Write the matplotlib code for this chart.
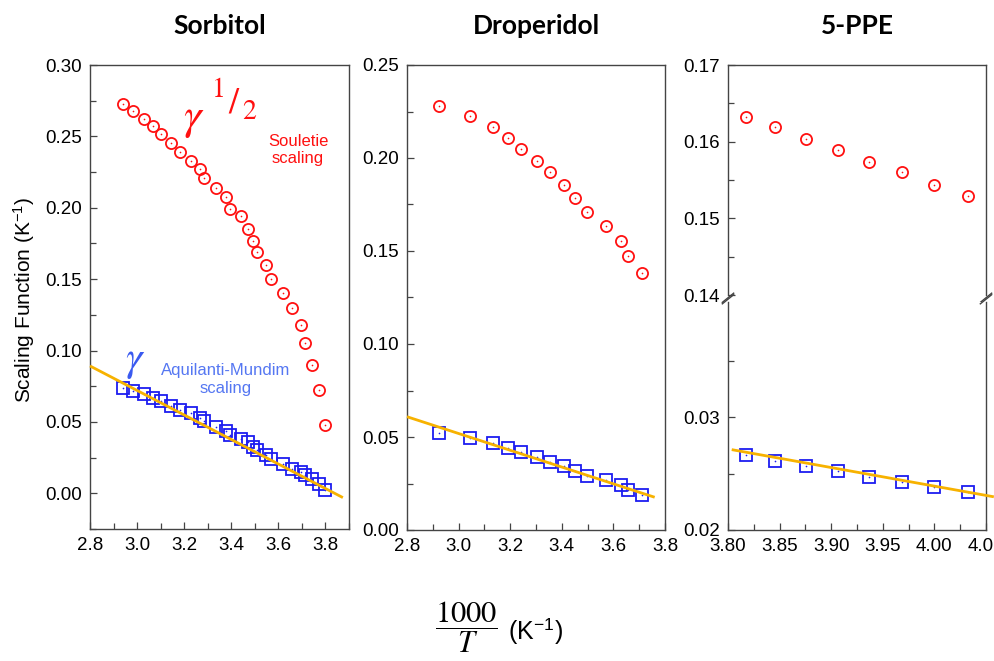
import numpy as np
import matplotlib
matplotlib.use("Agg")
import matplotlib.pyplot as plt
from matplotlib.ticker import MultipleLocator

plt.rcParams['mathtext.fontset'] = 'stix'
TICK_FONT = ['Liberation Sans Narrow', 'Liberation Sans', 'DejaVu Sans']
TEXT_FONT = ['Liberation Sans', 'DejaVu Sans']

# Sorbitol: 1000/T and the two scaling functions
sorb_x = [2.942, 2.982, 3.030, 3.067, 3.101, 3.142, 3.183, 3.231, 3.266, 3.283,
          3.336, 3.377, 3.396, 3.443, 3.472, 3.491, 3.511, 3.549, 3.570, 3.621,
          3.660, 3.695, 3.712, 3.742, 3.774, 3.800]
sorb_souletie = [0.273, 0.268, 0.262, 0.257, 0.252, 0.2455, 0.239, 0.233, 0.227, 0.221,
                 0.214, 0.2077, 0.1993, 0.1944, 0.185, 0.177, 0.169, 0.160, 0.150, 0.1404,
                 0.1295, 0.118, 0.105, 0.0897, 0.0722, 0.0477]
sorb_am = [0.0741, 0.0717, 0.0694, 0.0671, 0.0647, 0.0610, 0.0582, 0.0559, 0.0524, 0.0507,
           0.0465, 0.0437, 0.0407, 0.0383, 0.0360, 0.0325, 0.0301, 0.0266, 0.0243, 0.0208,
           0.0173, 0.0150, 0.0126, 0.0103, 0.0068, 0.0026]
sorb_fit_x = [2.80, 3.874]
sorb_fit_y = [0.0892, -0.003]

# Droperidol
drop_x = [2.923, 3.045, 3.132, 3.193, 3.241, 3.303, 3.355, 3.407, 3.450, 3.498,
          3.570, 3.630, 3.658, 3.711]
drop_souletie = [0.2281, 0.2226, 0.2168, 0.2109, 0.2048, 0.1985, 0.1923, 0.1853, 0.1783,
                 0.1710, 0.1636, 0.1555, 0.1473, 0.1383]
drop_am = [0.0520, 0.0496, 0.0470, 0.0443, 0.0421, 0.0394, 0.0367, 0.0344, 0.0319,
           0.0292, 0.0269, 0.0242, 0.0215, 0.0188]
drop_fit_x = [2.80, 3.760]
drop_fit_y = [0.0609, 0.0176]

# 5-PPE
ppe_x = [3.817, 3.846, 3.876, 3.907, 3.937, 3.969, 4.000, 4.033]
ppe_souletie = [0.1632, 0.1619, 0.1604, 0.1589, 0.1574, 0.1560, 0.1544, 0.1529]
ppe_am = [0.02662, 0.02611, 0.02567, 0.02521, 0.02470, 0.02426, 0.02382, 0.02333]
ppe_fit_x = [3.8036, 4.0576]
ppe_fit_y = [0.02712, 0.02294]

RED = '#ff1010'
BLUE = '#1c1cf0'
FIT = '#f7b200'
SPINE = '#444444'

fig = plt.figure(figsize=(9.95, 6.61), dpi=100)
W, H = 995.0, 661.0


def box(l, t, r, b):
    return [l / W, 1 - b / H, (r - l) / W, (b - t) / H]


def style(ax, xmaj, xmin, ymaj, ymin):
    for s in ax.spines.values():
        s.set_color(SPINE)
        s.set_linewidth(1.0)
    ax.xaxis.set_major_locator(MultipleLocator(xmaj))
    ax.xaxis.set_minor_locator(MultipleLocator(xmin))
    ax.yaxis.set_major_locator(MultipleLocator(ymaj))
    ax.yaxis.set_minor_locator(MultipleLocator(ymin))
    ax.tick_params(which='both', direction='in', color=SPINE, width=0.9,
                   top=False, right=False)
    ax.tick_params(which='major', length=5, pad=6, labelsize=13.5)
    ax.tick_params(which='minor', length=4)
    for lab in ax.get_xticklabels() + ax.get_yticklabels():
        lab.set_family(TICK_FONT)


def circles(ax, x, y):
    ax.plot(x, y, ls='none', marker='o', ms=8, mfc='none', mec=RED, mew=1.3, clip_on=False)
    ax.plot(x, y, ls='none', marker='o', ms=1.2, mfc=RED, mec=RED, mew=0, clip_on=False)


def squares(ax, x, y):
    ax.plot(x, y, ls='none', marker='s', ms=8, mfc='none', mec=BLUE, mew=1.3, clip_on=False)
    ax.plot(x, y, ls='none', marker='o', ms=1.2, mfc=BLUE, mec=BLUE, mew=0, clip_on=False)


def fit(ax, x, y):
    ax.plot(x, y, color=FIT, lw=2.0, solid_capstyle='butt', zorder=5, clip_on=False)


title_kw = dict(fontsize=19, fontweight='bold', family=['Lato', 'DejaVu Sans'], pad=22)

# Sorbitol
ax1 = fig.add_axes(box(90, 65, 349, 529))
circles(ax1, sorb_x, sorb_souletie)
squares(ax1, sorb_x, sorb_am)
fit(ax1, sorb_fit_x, sorb_fit_y)
ax1.set_xlim(2.8, 3.9)
ax1.set_ylim(-0.025, 0.30)
style(ax1, 0.2, 0.1, 0.05, 0.025)
ax1.yaxis.set_major_formatter(plt.FormatStrFormatter('%.2f'))
ax1.set_title('Sorbitol', **title_kw)

# Droperidol
ax2 = fig.add_axes(box(407, 65, 665, 530))
circles(ax2, drop_x, drop_souletie)
squares(ax2, drop_x, drop_am)
fit(ax2, drop_fit_x, drop_fit_y)
ax2.set_xlim(2.8, 3.8)
ax2.set_ylim(0.0, 0.25)
style(ax2, 0.2, 0.1, 0.05, 0.025)
ax2.yaxis.set_major_formatter(plt.FormatStrFormatter('%.2f'))
ax2.set_title('Droperidol', **title_kw)

# 5-PPE, broken y axis
ax3u = fig.add_axes(box(728, 65, 986, 295))
ax3l = fig.add_axes(box(728, 302, 986, 530))
circles(ax3u, ppe_x, ppe_souletie)
squares(ax3l, ppe_x, ppe_am)
fit(ax3l, ppe_fit_x, ppe_fit_y)
for a in (ax3u, ax3l):
    a.set_xlim(3.80, 4.05)
ax3u.set_ylim(0.14, 0.17)
ax3l.set_ylim(0.02, 0.0402)
style(ax3u, 0.05, 0.025, 0.01, 0.005)
style(ax3l, 0.05, 0.025, 0.01, 0.005)
ax3l.set_yticks([0.02, 0.03])
ax3l.set_yticks([0.025, 0.035], minor=True)
ax3u.yaxis.set_major_formatter(plt.FormatStrFormatter('%.2f'))
ax3l.yaxis.set_major_formatter(plt.FormatStrFormatter('%.2f'))
ax3l.xaxis.set_major_formatter(plt.FormatStrFormatter('%.2f'))
ax3u.spines['bottom'].set_visible(False)
ax3l.spines['top'].set_visible(False)
ax3u.tick_params(which='both', bottom=False, labelbottom=False)
for lab in ax3l.get_yticklabels() + ax3l.get_xticklabels() + ax3u.get_yticklabels():
    lab.set_family(TICK_FONT)
ax3u.set_title('5-PPE', **title_kw)

# break marks on both spines
for xf in (0.0, 1.0):
    for yf, a in ((0.0, ax3u), (1.0, ax3l)):
        dy = -0.012 if a is ax3u else 0.012
        a.plot([xf - 0.022, xf + 0.022], [yf - 0.02 + dy, yf + 0.02 + dy],
               transform=a.transAxes, color=SPINE, lw=1.0, clip_on=False)

# labels
fig.text(24 / W, 1 - 300 / H, 'Scaling Function (K$^{\\mathregular{-1}}$)', rotation=90,
         ha='center', va='center', fontsize=15, family=TEXT_FONT)
fig.text(466 / W, 1 - 627 / H, r'$\dfrac{1000}{T}$', ha='center', va='center',
         fontsize=22)
fig.text(536 / W, 1 - 632 / H, '(K$^{\\mathregular{-1}}$)', ha='center', va='center',
         fontsize=18, family=TEXT_FONT)

# annotations in the Sorbitol panel
fig.text(194 / W, 1 - 118 / H, r'$\gamma$', ha='center', va='center', fontsize=32, color=RED)
fig.text(219 / W, 1 - 90 / H, '1', ha='center', va='center', fontsize=20, color=RED,
         family='STIXGeneral')
fig.text(233 / W, 1 - 104 / H, '/', ha='center', va='center', fontsize=26, color=RED,
         family='STIXGeneral')
fig.text(249 / W, 1 - 112 / H, '2', ha='center', va='center', fontsize=20, color=RED,
         family='STIXGeneral')
fig.text(298 / W, 1 - 150 / H, 'Souletie\nscaling', ha='center', va='center', fontsize=12,
         color=RED, family=TEXT_FONT, linespacing=1.25)
fig.text(135 / W, 1 - 360 / H, r'$\gamma$', ha='center', va='center', fontsize=30,
         color='#3a5af0')
fig.text(226 / W, 1 - 380 / H, 'Aquilanti-Mundim\nscaling', ha='center', va='center',
         fontsize=12, color='#5577f2', family=TEXT_FONT, linespacing=1.25)

fig.savefig('out.png', dpi=100)
